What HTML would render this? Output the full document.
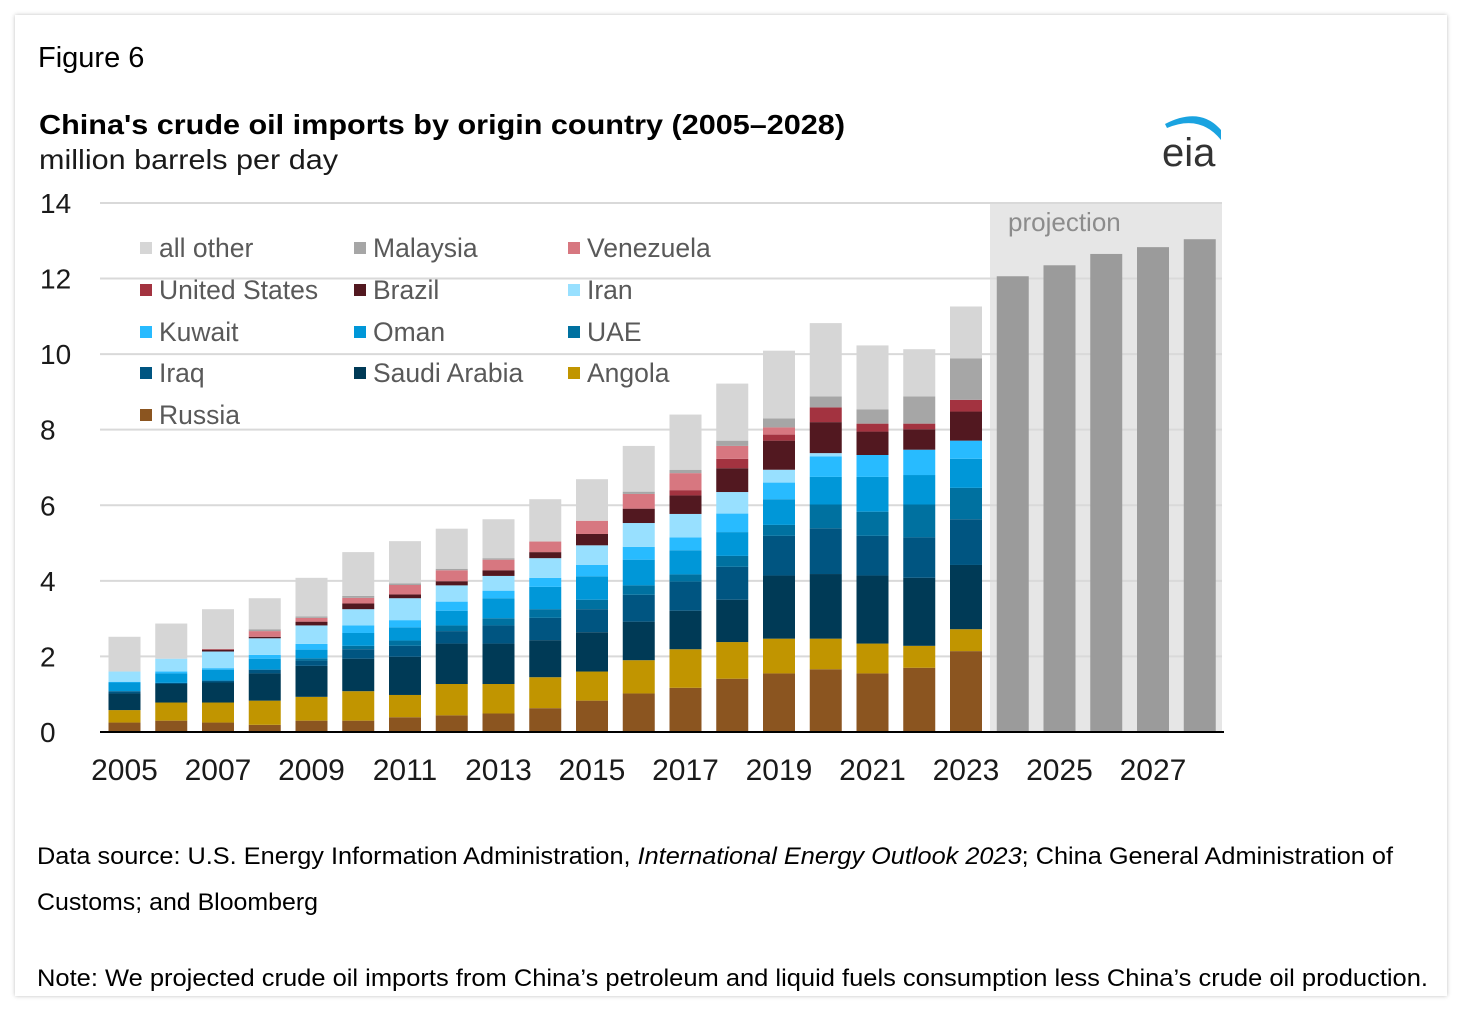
<!DOCTYPE html>
<html><head><meta charset="utf-8"><style>
html,body{margin:0;padding:0;background:#fff;}
body{width:1463px;height:1011px;position:relative;overflow:hidden;font-family:"Liberation Sans",sans-serif;}
#card{position:absolute;left:15px;top:15px;width:1432px;height:981px;background:#fff;box-shadow:0 0 4px rgba(0,0,0,0.25);}
svg{position:absolute;left:0;top:0;}
</style></head><body>
<div id="card"></div>
<svg id="chart" width="1463" height="1011">
<text x="38" y="67" font-size="29" fill="#000">Figure 6</text>
<text x="39" y="134" font-size="28" font-weight="bold" fill="#000" textLength="806" lengthAdjust="spacingAndGlyphs">China's crude oil imports by origin country (2005–2028)</text>
<text x="39" y="169" font-size="28" fill="#1a1a1a" textLength="299" lengthAdjust="spacingAndGlyphs">million barrels per day</text>
<g>
<path d="M1165,124 Q1200,106 1221,130 L1221,140 Q1200,114 1167,128 Z" fill="#1aa3e0"/>
<text x="1162" y="166" font-size="40" fill="#333">eia</text>
</g>
<rect x="990" y="203" width="232" height="529" fill="#e6e6e6"/>
<text x="1008" y="231" font-size="26" fill="#8c8c8c">projection</text>
<g id="grid"></g><g id="bars"></g><g id="axes"></g><g id="legend"></g>
<text x="37" y="864" font-size="24" fill="#000" textLength="1356" lengthAdjust="spacingAndGlyphs">Data source: U.S. Energy Information Administration, <tspan font-style="italic">International Energy Outlook 2023</tspan>; China General Administration of</text>
<text x="37" y="910" font-size="24" fill="#000" textLength="281" lengthAdjust="spacingAndGlyphs">Customs; and Bloomberg</text>
<text x="37" y="986" font-size="24" fill="#000" textLength="1391" lengthAdjust="spacingAndGlyphs">Note: We projected crude oil imports from China’s petroleum and liquid fuels consumption less China’s crude oil production.</text>
</svg>
<script>
const years = [2005,2006,2007,2008,2009,2010,2011,2012,2013,2014,2015,2016,2017,2018,2019,2020,2021,2022,2023];
const projYears = [2024,2025,2026,2027,2028];
const projValues = [12.06,12.35,12.65,12.83,13.04];
const yTicks = [0,2,4,6,8,10,12,14];
const xTickLabels = ["2005","2007","2009","2011","2013","2015","2017","2019","2021","2023","2025","2027"];
// cumulative top of each stacked series (mb/d)
const cumRussia = [0.25,0.3,0.25,0.19,0.3,0.3,0.39,0.44,0.49,0.63,0.83,1.02,1.17,1.41,1.55,1.66,1.55,1.7,2.14];
const cumAngola = [0.58,0.78,0.78,0.83,0.93,1.08,0.98,1.27,1.27,1.45,1.6,1.9,2.19,2.38,2.47,2.47,2.34,2.28,2.72];
const cumSaudi = [1.02,1.27,1.31,1.55,1.75,1.94,1.99,2.34,2.34,2.43,2.64,2.92,3.21,3.5,4.14,4.18,4.14,4.08,4.42];
const cumIraq = [1.08,1.3,1.36,1.65,1.89,2.19,2.28,2.67,2.82,3.02,3.25,3.63,3.98,4.37,5.19,5.39,5.19,5.15,5.63];
const cumUAE = [1.08,1.3,1.36,1.65,1.95,2.28,2.42,2.82,3.01,3.25,3.5,3.88,4.17,4.66,5.48,6.02,5.83,6.02,6.46];
const cumOman = [1.31,1.55,1.65,1.94,2.18,2.62,2.77,3.21,3.54,3.84,4.12,4.56,4.81,5.29,6.16,6.75,6.75,6.8,7.23];
const cumKuwait = [1.33,1.6,1.69,2.04,2.33,2.82,2.96,3.45,3.74,4.08,4.42,4.9,5.15,5.78,6.6,7.29,7.33,7.47,7.71];
const cumIran = [1.6,1.94,2.13,2.48,2.82,3.25,3.54,3.88,4.13,4.6,4.94,5.53,5.77,6.35,6.94,7.38,7.33,7.47,7.71];
const cumBrazil = [1.6,1.94,2.18,2.52,2.92,3.4,3.64,3.99,4.28,4.76,5.24,5.91,6.26,6.98,7.71,8.2,7.95,8.01,8.48];
const cumUS = [1.6,1.94,2.18,2.52,2.92,3.4,3.64,3.99,4.28,4.76,5.24,5.91,6.4,7.23,7.87,8.59,8.16,8.16,8.79];
const cumVenezuela = [1.6,1.94,2.2,2.67,3.02,3.55,3.89,4.28,4.56,5.04,5.59,6.3,6.85,7.57,8.06,8.59,8.16,8.16,8.79];
const cumMalaysia = [1.6,1.94,2.2,2.72,3.06,3.6,3.93,4.32,4.6,5.04,5.59,6.36,6.94,7.71,8.3,8.88,8.54,8.88,9.89];
const cumTotal = [2.52,2.87,3.25,3.54,4.08,4.76,5.05,5.38,5.63,6.16,6.69,7.57,8.4,9.22,10.09,10.82,10.23,10.13,11.26];

const NS="http://www.w3.org/2000/svg";
const y0=732, pxPerUnit=37.79;
function yScale(v){return y0 - v*pxPerUnit;}
function xScale(yr){return 124.5 + (yr-2005)*46.75;}
const barW=32;
function mk(tag,attrs,parent){const e=document.createElementNS(NS,tag);for(const k in attrs)e.setAttribute(k,attrs[k]);parent.appendChild(e);return e;}

const series=[
 {name:"russia",cum:cumRussia,color:"#8b5520"},
 {name:"angola",cum:cumAngola,color:"#c19500"},
 {name:"saudi-arabia",cum:cumSaudi,color:"#003a56"},
 {name:"iraq",cum:cumIraq,color:"#005581"},
 {name:"uae",cum:cumUAE,color:"#0071a0"},
 {name:"oman",cum:cumOman,color:"#0097d8"},
 {name:"kuwait",cum:cumKuwait,color:"#28bbff"},
 {name:"iran",cum:cumIran,color:"#98e0ff"},
 {name:"brazil",cum:cumBrazil,color:"#521820"},
 {name:"united-states",cum:cumUS,color:"#a33340"},
 {name:"venezuela",cum:cumVenezuela,color:"#d77780"},
 {name:"malaysia",cum:cumMalaysia,color:"#a6a6a6"},
 {name:"all-other",cum:cumTotal,color:"#d6d6d6"}
];

const grid=document.getElementById('grid');
yTicks.forEach(t=>{
  if(t>0){const l=mk('line',{x1:100,x2:1222,y1:yScale(t),y2:yScale(t),stroke:"#d9d9d9","stroke-width":2},grid);
  
  }
});
const bars=document.getElementById('bars');
years.forEach((yr,i)=>{
  let prev=0;
  series.forEach(s=>{
    const top=Math.max(s.cum[i],prev);
    if(top-prev>0.001){
      const r=mk('rect',{x:xScale(yr)-barW/2,y:yScale(top),width:barW,height:(top-prev)*pxPerUnit,fill:s.color},bars);
      
      
    }
    prev=top;
  });
});
projYears.forEach((yr,i)=>{
  const r=mk('rect',{x:xScale(yr)-barW/2,y:yScale(projValues[i]),width:barW,height:projValues[i]*pxPerUnit,fill:"#9b9b9b"},bars);
  
  
});
const axes=document.getElementById('axes');
const ax=mk('line',{x1:100,x2:1224,y1:y0,y2:y0,stroke:"#000","stroke-width":2},axes);


yTicks.forEach(t=>{
  const tx=mk('text',{x:40,y:yScale(t)+10,"font-size":28,fill:"#1a1a1a"},axes);
  tx.textContent=t;
  
  
});
xTickLabels.forEach(l=>{
  const tx=mk('text',{x:xScale(+l),y:780,"font-size":30,fill:"#1a1a1a","text-anchor":"middle"},axes);
  tx.textContent=l;
  
  
});
const legendItems=[
 ["all other","#d6d6d6"],["Malaysia","#a6a6a6"],["Venezuela","#d77780"],
 ["United States","#a33340"],["Brazil","#521820"],["Iran","#98e0ff"],
 ["Kuwait","#28bbff"],["Oman","#0097d8"],["UAE","#0071a0"],
 ["Iraq","#005581"],["Saudi Arabia","#003a56"],["Angola","#c19500"],
 ["Russia","#8b5520"]];
const legendRowsY=[248,290,332,373,415];
const legendColsX=[140,354,568];
const lg=document.getElementById('legend');
legendItems.forEach((it,i)=>{
  const x=legendColsX[i%3], y=legendRowsY[Math.floor(i/3)];
  const g=mk('g',{},lg);
  
  
  mk('rect',{x:x,y:y-6,width:12,height:12,fill:it[1]},g);
  const t=mk('text',{x:x+19,y:y+9,"font-size":26.5,fill:"#595959"},g);
  t.textContent=it[0];
});
</script>
</body></html>
